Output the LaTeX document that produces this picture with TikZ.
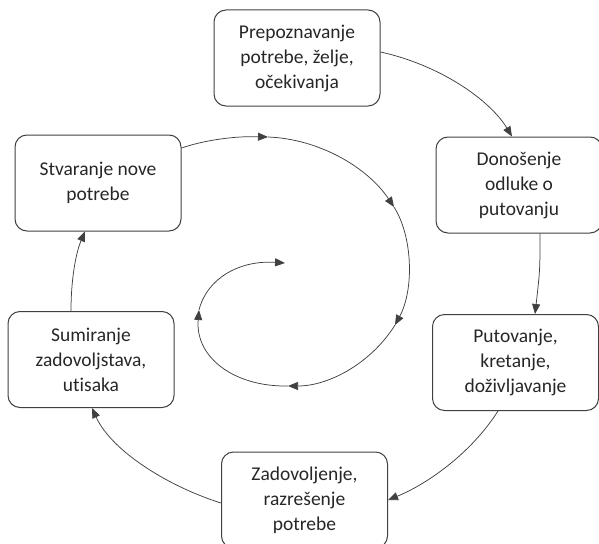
\documentclass[tikz,border=0pt]{standalone}
\usepackage{fontspec}
\setmainfont[Ligatures=NoCommon]{Carlito}
\usetikzlibrary{arrows.meta}
\definecolor{ln}{HTML}{404040}
\definecolor{tx}{HTML}{262626}
\tikzset{
  box/.style={draw=ln, line width=1pt, rounded corners=12pt, minimum width=166pt, minimum height=96pt,
    align=center, inner sep=0pt, text=tx, font=\fontsize{19.5}{25}\selectfont},
  conn/.style={draw=ln, line width=0.75pt, -{Triangle[length=10pt,width=8pt]}}
}
\begin{document}
\begin{tikzpicture}[x=1pt,y=-1pt]
\useasboundingbox (0,0) rectangle (599,543);
\node[box] (P) at (297,58) {Prepoznavanje\\potrebe, želje,\\očekivanja};
\node[box] (D) at (519,185) {Donošenje\\odluke o\\putovanju};
\node[box] (Pu) at (515.5,362.5) {Putovanje,\\kretanje,\\doživljavanje};
\node[box] (Z) at (304.5,500) {Zadovoljenje,\\razrešenje\\potrebe};
\node[box] (Su) at (91,359.5) {Sumiranje\\zadovoljstava,\\utisaka};
\node[box] (St) at (98,183) {Stvaranje nove\\potrebe};

\coordinate (s1) at (268,137);
\coordinate (s2) at (394,207);
\coordinate (s3) at (395,325);
\coordinate (s4) at (288,386);
\coordinate (s5) at (199,310);
\coordinate (s6) at (285,263);

\draw[conn] (P.east |- 0,52) .. controls (440,65) and (490,100) .. (D.north -| 512,0);
\draw[conn] (D.south -| 540,0) .. controls (540,270) .. (Pu.north -| 535,0);
\draw[conn] (Pu.south -| 498,0) .. controls (470,455) and (425,485) .. (Z.east |- 0,500);
\draw[conn] (Z.west |- 0,503) .. controls (170,487) and (112,452) .. (Su.south -| 92,0);
\draw[conn] (Su.north -| 71,0) .. controls (71,275) and (77,250) .. (St.south -| 85,0);

\draw[conn] (St.east |- 0,148) .. controls (205,140) and (235,136) .. (s1);
\draw[conn] (s1) .. controls (320,139) and (368,168) .. (s2);
\draw[conn] (s2) .. controls (413,237) and (414,290) .. (s3);
\draw[conn] (s3) .. controls (372,362) and (330,386) .. (s4);
\draw[conn] (s4) .. controls (235,387) and (195,358) .. (s5);
\draw[conn] (s5) .. controls (207,278) and (240,260) .. (s6);
\end{tikzpicture}
\end{document}
